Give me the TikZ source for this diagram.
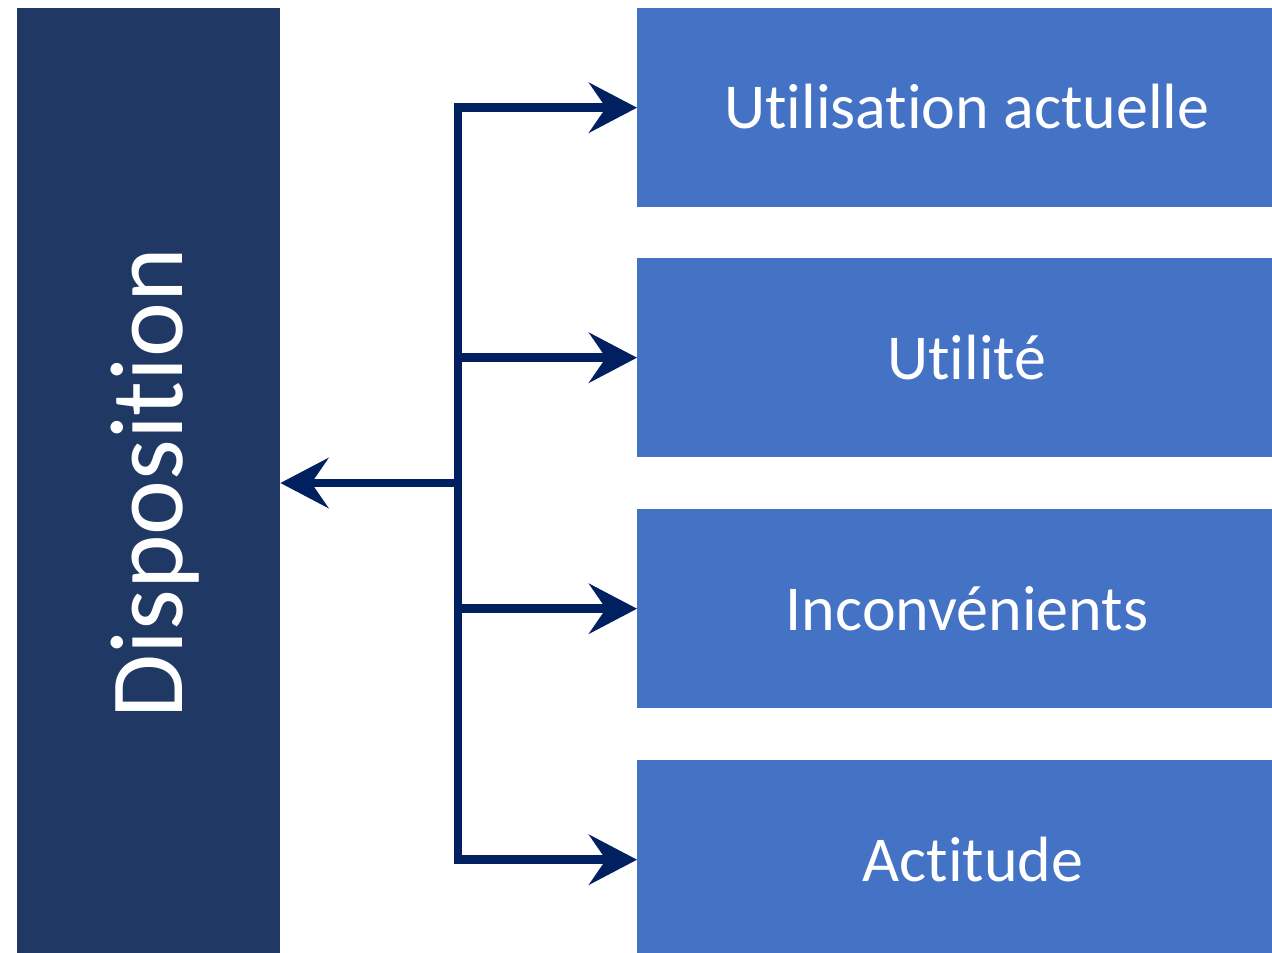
\documentclass[tikz,border=0pt]{standalone}
\usepackage{fontspec}
\setmainfont[Ligatures=NoCommon]{Carlito}
\usetikzlibrary{arrows.meta}
\definecolor{navy}{HTML}{203864}
\definecolor{boxblue}{HTML}{4472C4}
\definecolor{linkblue}{HTML}{002060}
\begin{document}
\begin{tikzpicture}[x=1pt,y=-1pt,
  sidebox/.style={fill=navy,draw=none,inner sep=0pt},
  itembox/.style={fill=boxblue,draw=none,inner sep=0pt},
  itemtext/.style={text=white,font=\fontsize{64}{77}\selectfont,inner sep=0pt},
  link/.style={draw=linkblue,line width=8.5pt,line join=miter,
    -{Stealth[length=48pt,width=50pt,inset=17pt]}}]
  \useasboundingbox (0,0) rectangle (1272,953);

  % left column
  \node[sidebox,minimum width=263pt,minimum height=945pt,anchor=north west] (disp) at (17,8) {};
  \node[text=white,font=\fontsize{104}{125}\selectfont,rotate=90,inner sep=0pt] (disptext) at (155,483) {Disposition};

  % right column boxes
  \node[itembox,minimum width=660pt,minimum height=199pt,anchor=north west] (u) at (637,8) {};
  \node[itembox,minimum width=660pt,minimum height=199pt,anchor=north west] (v) at (637,258) {};
  \node[itembox,minimum width=660pt,minimum height=199pt,anchor=north west] (w) at (637,509) {};
  \node[itembox,minimum width=660pt,minimum height=199pt,anchor=north west] (a) at (637,760) {};

  \node[itemtext] (ut) at (967,107) {Utilisation actuelle};
  \node[itemtext] (vt) at (967,358) {Utilité};
  \node[itemtext] (wt) at (967,609) {Inconvénients};
  \node[itemtext] (at) at (973,860) {Actitude};

  % connectors
  \coordinate (j) at (458,483);
  \draw[link] (j) |- (u.west);
  \draw[link] (j) |- (v.west);
  \draw[link] (j) |- (w.west);
  \draw[link] (j) |- (a.west);
  \draw[link] ([xshift=4pt]j) -- (disp.east |- j);
\end{tikzpicture}
\end{document}
